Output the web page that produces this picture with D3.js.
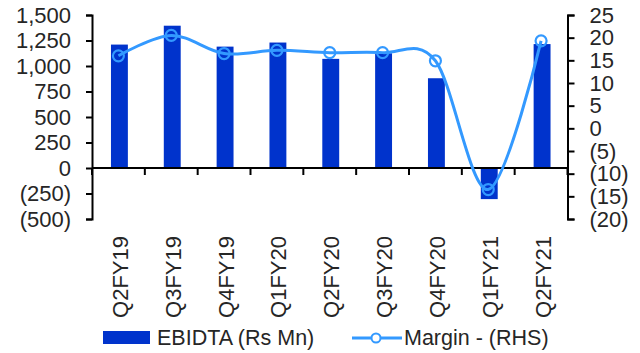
<!DOCTYPE html>
<html>
<head>
<meta charset="utf-8">
<script src="https://cdn.jsdelivr.net/npm/d3@7"></script>
<style>
  html, body { margin: 0; padding: 0; background: #fff; }
  svg { display: block; font-family: "Liberation Sans", Arial, sans-serif; }
</style>
</head>
<body>
<svg id="chart" width="640" height="353"></svg>
<script>
// Quarterly EBIDTA (bars, left axis) and margin % (smoothed line, right axis)
const categories = ["Q2FY19", "Q3FY19", "Q4FY19", "Q1FY20", "Q2FY20", "Q3FY20", "Q4FY20", "Q1FY21", "Q2FY21"];
const ebitda = [1210, 1395, 1190, 1230, 1070, 1125, 880, -305, 1215];
const margin = [16.0, 20.5, 16.5, 17.2, 16.7, 16.7, 14.9, -13.5, 19.3];
const leftTicks = [-500, -250, 0, 250, 500, 750, 1000, 1250, 1500];
const rightTicks = [-20, -15, -10, -5, 0, 5, 10, 15, 20, 25];
const seriesNames = ["EBIDTA  (Rs Mn)", "Margin - (RHS)"];

const barColor = "#0033CC";
const lineColor = "#3399FF";
const textColor = "#262626";

const svg = d3.select("#chart");
const plot = { left: 92, right: 567.5, top: 15, bottom: 219 };

const x = d3.scaleBand().domain(categories).range([plot.left, plot.right]).paddingInner(0).paddingOuter(0);
const yL = d3.scaleLinear().domain([-500, 1500]).range([plot.bottom, plot.top]);
const yR = d3.scaleLinear().domain([-20, 25]).range([plot.bottom, plot.top]);

// Parenthesised negatives, thousands separators
const fmt = v => v < 0 ? "(" + d3.format(",")(-v) + ")" : d3.format(",")(v);

// Bars
const barW = x.bandwidth() * 0.32;
svg.append("g").selectAll("rect").data(ebitda).join("rect")
  .attr("x", (d, i) => x(categories[i]) + x.bandwidth() / 2 - barW / 2 + 1)
  .attr("width", barW)
  .attr("y", d => yL(Math.max(0, d)))
  .attr("height", d => Math.abs(yL(d) - yL(0)))
  .attr("fill", barColor);

// Left axis
const leftAxis = d3.axisLeft(yL).tickValues(leftTicks).tickFormat(fmt).tickSize(6).tickPadding(15);
const gL = svg.append("g").attr("transform", `translate(${plot.left},0)`).call(leftAxis);

// Right axis
const rightAxis = d3.axisRight(yR).tickValues(rightTicks).tickFormat(fmt).tickSize(7).tickPadding(15);
const gR = svg.append("g").attr("transform", `translate(${plot.right},0)`).call(rightAxis);

// Category axis along zero, ticks at band edges
const edges = categories.map(c => x(c)).concat([plot.right]);
const gX = svg.append("g");
gX.append("line")
  .attr("x1", plot.left).attr("x2", plot.right)
  .attr("y1", yL(0)).attr("y2", yL(0))
  .attr("stroke", "#000").attr("stroke-width", 2);
gX.selectAll("line.tk").data(edges).join("line").attr("class", "tk")
  .attr("x1", d => d).attr("x2", d => d)
  .attr("y1", yL(0)).attr("y2", yL(0) + 7)
  .attr("stroke", "#000").attr("stroke-width", 2);

// Category labels at the bottom, rotated
svg.append("g").selectAll("text").data(categories).join("text")
  .attr("transform", d => `translate(${x(d) + x.bandwidth() / 2 + 2},236) rotate(-90)`)
  .attr("text-anchor", "end")
  .attr("dominant-baseline", "central")
  .attr("font-size", 22)
  .attr("fill", textColor)
  .text(d => d);

[gL, gR].forEach(g => {
  g.select(".domain").attr("stroke", "#000").attr("stroke-width", 2);
  g.selectAll(".tick line").attr("stroke", "#000").attr("stroke-width", 2);
  g.selectAll(".tick text").attr("font-size", 22).attr("fill", textColor)
    .attr("font-family", "Liberation Sans, Arial, sans-serif");
});

// Smoothed margin line with hollow markers
const pts = margin.map((m, i) => [x(categories[i]) + x.bandwidth() / 2, yR(m)]);
svg.append("path")
  .attr("d", d3.line().curve(d3.curveCardinal.tension(0))(pts))
  .attr("fill", "none").attr("stroke", lineColor).attr("stroke-width", 3);
svg.append("g").selectAll("circle").data(pts).join("circle")
  .attr("cx", d => d[0]).attr("cy", d => d[1]).attr("r", 5.5)
  .attr("fill", "none").attr("stroke", lineColor).attr("stroke-width", 2.2);

// Legend
const lg = svg.append("g").attr("font-size", 21.5).attr("fill", textColor);
lg.append("rect").attr("x", 103).attr("y", 331).attr("width", 47).attr("height", 13).attr("fill", barColor);
lg.append("text").attr("x", 157).attr("y", 345).attr("fill", textColor).text(seriesNames[0]);
lg.append("line").attr("x1", 352).attr("x2", 402).attr("y1", 338).attr("y2", 338)
  .attr("stroke", lineColor).attr("stroke-width", 3);
lg.append("circle").attr("cx", 376).attr("cy", 338).attr("r", 4.5)
  .attr("fill", "#fff").attr("stroke", lineColor).attr("stroke-width", 2);
lg.append("text").attr("x", 404).attr("y", 345).attr("fill", textColor).text(seriesNames[1]);
</script>
</body>
</html>
